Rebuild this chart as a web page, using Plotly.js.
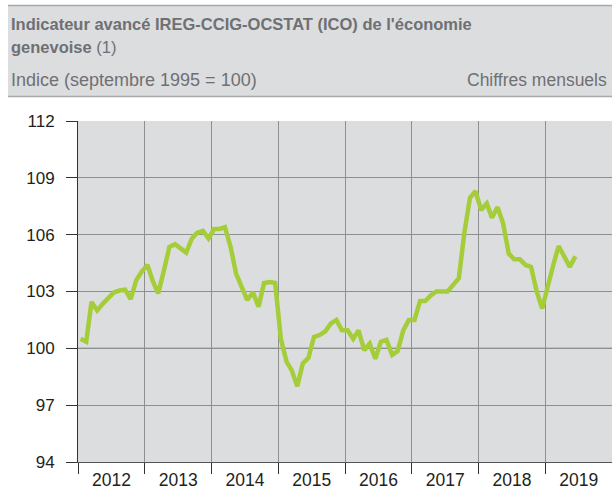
<!DOCTYPE html>
<html>
<head>
<meta charset="utf-8">
<script src="https://cdn.plot.ly/plotly-3.0.1.min.js"></script>
<style>html,body{margin:0;padding:0;background:#fff;}#chart{width:612px;height:489px;}</style>
</head>
<body>
<div id="chart"></div>
<script>
// ---- Data (monthly index, September 1995 = 100) ----
const years = [2012, 2013, 2014, 2015, 2016, 2017, 2018, 2019];
const v2012 = [100.5, 100.35, 102.45, 102.0, 102.35, 102.65, 102.95, 103.05, 103.1, 102.6, 103.6, 104.05];
const v2013 = [104.4, 103.5, 102.9, 104.1, 105.35, 105.5, 105.25, 105.05, 105.8, 106.1, 106.2, 105.8];
const v2014 = [106.3, 106.3, 106.4, 105.35, 103.95, 103.2, 102.55, 102.95, 102.2, 103.45, 103.5, 103.45];
const v2015 = [100.5, 99.3, 98.85, 98.0, 99.2, 99.5, 100.6, 100.7, 100.9, 101.3, 101.5, 100.95];
const v2016 = [100.95, 100.5, 100.95, 99.9, 100.25, 99.45, 100.35, 100.45, 99.65, 99.85, 100.95, 101.5];
const v2017 = [101.5, 102.5, 102.5, 102.8, 103.0, 103.0, 103.0, 103.35, 103.7, 106.1, 107.95, 108.3];
const v2018 = [107.3, 107.65, 106.9, 107.45, 106.6, 105.0, 104.7, 104.7, 104.4, 104.3, 103.0, 102.1];
const v2019 = [103.35, 104.45, 105.4, 104.85, 104.3, 104.85];
const yearValues = [v2012, v2013, v2014, v2015, v2016, v2017, v2018, v2019];
const yTicks = [94, 97, 100, 103, 106, 109, 112];
const baseline = 100;

const titleLine1 = "<b>Indicateur avancé IREG-CCIG-OCSTAT (ICO) de l'économie</b>";
const titleLine2 = "<b>genevoise</b> (1)";
const subLeft = "Indice (septembre 1995 = 100)";
const subRight = "Chiffres mensuels";

// ---- Build series ----
const xs = [], ys = [];
yearValues.forEach((vals, i) => {
  vals.forEach((v, m) => {
    const mm = String(m + 1).padStart(2, '0');
    xs.push(years[i] + '-' + mm + '-15');
    ys.push(v);
  });
});

// ---- Layout geometry (pixels) ----
const W = 612, H = 489;
const L = 78, R = 0, T = 121, B = 27;
const PW = W - L - R, PH = H - T - B;
const px = x => (x - L) / PW;
const py = y => (T + PH - y) / PH;

const font = "'Liberation Sans', Arial, sans-serif";
const gridCol = '#8e8f91';
const textGray = '#6f7073';

const layout = {
  width: W, height: H,
  margin: {l: L, r: R, t: T, b: B, pad: 0},
  paper_bgcolor: '#ffffff',
  plot_bgcolor: '#dcdddf',
  showlegend: false,
  font: {family: font, color: '#231f20'},
  xaxis: {
    type: 'date',
    range: ['2012-01-01', '2020-01-01'],
    tick0: '2012-01-01',
    dtick: 'M12',
    tickformat: '%Y',
    ticklabelmode: 'period',
    ticks: 'outside', ticklen: 11, tickwidth: 1, tickcolor: '#333333',
    ticklabelstandoff: -9,
    showgrid: true, gridcolor: gridCol, gridwidth: 1,
    showline: true, linecolor: '#555555', linewidth: 1,
    zeroline: false,
    tickfont: {size: 17.5, color: '#231f20', family: font},
    fixedrange: true
  },
  yaxis: {
    range: [94, 112],
    tickvals: yTicks,
    ticktext: yTicks.map(String),
    ticks: 'outside', ticklen: 11, tickwidth: 1, tickcolor: '#333333',
    showgrid: true, gridcolor: gridCol, gridwidth: 1,
    showline: true, linecolor: '#333333', linewidth: 1,
    zeroline: false,
    ticklabelstandoff: 8,
    tickfont: {size: 17, color: '#231f20', family: font},
    fixedrange: true
  },
  shapes: [
    // header band
    {type: 'rect', xref: 'paper', yref: 'paper', x0: px(8), x1: px(612), y0: py(96.5), y1: py(5.5),
     fillcolor: '#dcdddf', line: {width: 0}, layer: 'below'},
    {type: 'line', xref: 'paper', yref: 'paper', x0: px(8), x1: px(612), y0: py(5.5), y1: py(5.5),
     line: {color: '#a7a8aa', width: 1.5}},
    {type: 'line', xref: 'paper', yref: 'paper', x0: px(8), x1: px(612), y0: py(96.5), y1: py(96.5),
     line: {color: '#a7a8aa', width: 1.5}},
    // reference line at 100
    {type: 'line', xref: 'paper', yref: 'y', x0: 0, x1: 1, y0: baseline, y1: baseline,
     line: {color: '#3a3a3a', width: 1}, layer: 'below'}
  ],
  annotations: [
    {text: titleLine1, xref: 'paper', yref: 'paper', x: px(9), y: py(24), xanchor: 'left', yanchor: 'middle',
     showarrow: false, font: {size: 16.5, color: textGray, family: font}},
    {text: titleLine2, xref: 'paper', yref: 'paper', x: px(9), y: py(47), xanchor: 'left', yanchor: 'middle',
     showarrow: false, font: {size: 16.5, color: textGray, family: font}},
    {text: subLeft, xref: 'paper', yref: 'paper', x: px(9), y: py(80), xanchor: 'left', yanchor: 'middle',
     showarrow: false, font: {size: 18, color: textGray, family: font}},
    {text: subRight, xref: 'paper', yref: 'paper', x: px(609), y: py(80), xanchor: 'right', yanchor: 'middle',
     showarrow: false, font: {size: 17.5, color: textGray, family: font}}
  ]
};

const trace = {
  type: 'scatter', mode: 'lines',
  x: xs, y: ys,
  line: {color: '#a5cd39', width: 4.5},
  hoverinfo: 'skip'
};

Plotly.newPlot('chart', [trace], layout, {displayModeBar: false, staticPlot: true});
</script>
</body>
</html>
